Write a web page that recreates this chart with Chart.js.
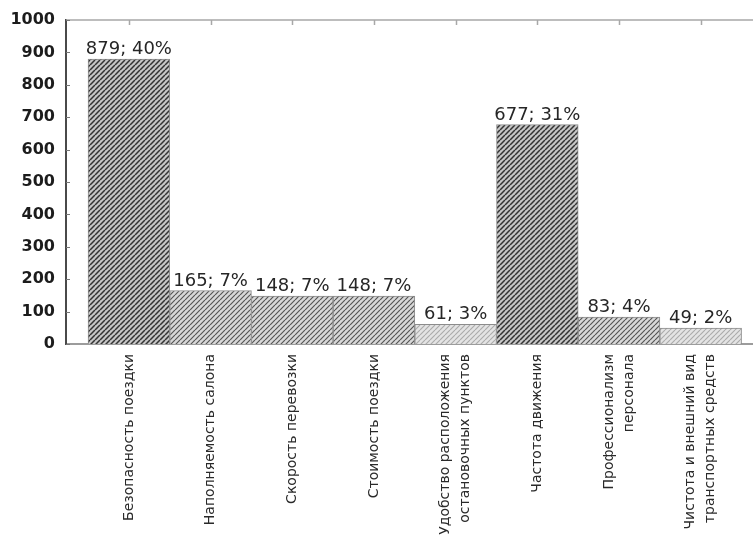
<!DOCTYPE html>
<html lang="ru">
<head>
<meta charset="utf-8">
<title>Факторы качества перевозок</title>
<script src="https://cdn.jsdelivr.net/npm/chart.js@4/dist/chart.umd.min.js"></script>
<style>
  html, body { margin: 0; padding: 0; background: #fff; }
  #wrap { width: 753px; height: 544px; }
</style>
</head>
<body>
<div id="wrap"><canvas id="factorsChart" width="753" height="544"></canvas></div>
<script>
'use strict';

// categories (split into lines for the rotated axis labels)
let categories = [
  ['Безопасность поездки'],
  ['Наполняемость салона'],
  ['Скорость перевозки'],
  ['Стоимость поездки'],
  ['Удобство расположения', 'остановочных пунктов'],
  ['Частота движения'],
  ['Профессионализм', 'персонала'],
  ['Чистота и внешний вид', 'транспортных средств']
];
let answers = [879, 165, 148, 148, 61, 677, 83, 49];
let yTicks = [0, 100, 200, 300, 400, 500, 600, 700, 800, 900, 1000];

// how heavy the hatching looks on each bar
let hatchTone = ['dark', 'mid', 'mid', 'mid', 'light', 'dark', 'mid', 'light'];

let totalAnswers = answers.reduce((a, b) => a + b, 0);

//Helper Functions
function hatch(bg, ink, lineWidth) {
  let size = 5;
  let tile = document.createElement('canvas');
  tile.width = size;
  tile.height = size;
  let g = tile.getContext('2d');
  g.fillStyle = bg;
  g.fillRect(0, 0, size, size);
  g.strokeStyle = ink;
  g.lineWidth = lineWidth;
  g.beginPath();
  for (let k = -1; k <= 1; k++) {
    g.moveTo(k * size, size);
    g.lineTo(k * size + size, 0);
  }
  g.stroke();
  return g.createPattern(tile, 'repeat');
}

let patterns = {
  dark: hatch('#c6c6c6', '#333333', 1.5),
  mid: hatch('#d8d8d8', '#555555', 1.2),
  light: hatch('#e4e4e4', '#ababab', 1.1)
};

// "879; 40%" above each bar
const valueLabels = {
  id: 'valueLabels',
  afterDatasetsDraw(chart) {
    let ctx = chart.ctx;
    let meta = chart.getDatasetMeta(0);
    ctx.save();
    ctx.font = '18px "DejaVu Sans"';
    ctx.fillStyle = '#262626';
    ctx.textAlign = 'center';
    ctx.textBaseline = 'alphabetic';
    meta.data.forEach((bar, i) => {
      let pct = Math.round(answers[i] / totalAnswers * 100);
      ctx.fillText(`${answers[i]}; ${pct}%`, bar.x, bar.y - 5);
    });
    ctx.restore();
  }
};

// vertical category names under the axis, lines centred on the bar
const categoryLabels = {
  id: 'categoryLabels',
  afterDraw(chart) {
    let ctx = chart.ctx;
    let xScale = chart.scales.x;
    let lineHeight = 20;
    ctx.save();
    ctx.font = '14px "DejaVu Sans"';
    ctx.fillStyle = '#2a2a2a';
    ctx.textAlign = 'right';
    ctx.textBaseline = 'middle';
    categories.forEach((lines, i) => {
      ctx.save();
      ctx.translate(xScale.getPixelForValue(i), chart.chartArea.bottom + 10);
      ctx.rotate(-Math.PI / 2);
      lines.forEach((line, j) => {
        ctx.fillText(line, 0, (j - (lines.length - 1) / 2) * lineHeight);
      });
      ctx.restore();
    });
    ctx.restore();
  }
};

// top frame line with small ticks, plus short inner ticks on the value axis
const frame = {
  id: 'frame',
  beforeDatasetsDraw(chart) {
    let ctx = chart.ctx;
    let area = chart.chartArea;
    let xScale = chart.scales.x;
    let yScale = chart.scales.y;
    ctx.save();
    ctx.strokeStyle = '#a8a8a8';
    ctx.lineWidth = 1.5;
    ctx.beginPath();
    ctx.moveTo(area.left, area.top);
    ctx.lineTo(area.right, area.top);
    categories.forEach((c, i) => {
      let x = Math.round(xScale.getPixelForValue(i)) + 0.5;
      ctx.moveTo(x, area.top);
      ctx.lineTo(x, area.top + 5);
    });
    ctx.stroke();
    ctx.strokeStyle = '#777';
    ctx.lineWidth = 1;
    ctx.beginPath();
    yTicks.forEach(v => {
      let y = Math.round(yScale.getPixelForValue(v)) + 0.5;
      ctx.moveTo(area.left, y);
      ctx.lineTo(area.left + 4, y);
    });
    ctx.stroke();
    ctx.restore();
  }
};

const data = {
  datasets: [{
    label: 'Количество ответов',
    data: answers.map((v, i) => ({ x: i, y: v })),
    backgroundColor: hatchTone.map(t => patterns[t]),
    borderColor: '#8c8c8c',
    borderWidth: 1,
    barPercentage: 1,
    categoryPercentage: 1
  }]
};

const config = {
  type: 'bar',
  data: data,
  options: {
    responsive: false,
    animation: false,
    layout: { padding: { top: 20, right: 0, bottom: 0, left: 0 } },
    plugins: {
      legend: { display: false },
      tooltip: { enabled: false }
    },
    scales: {
      x: {
        type: 'linear',
        offset: false,
        min: -0.77,
        max: 7.64,
        grid: { display: false },
        border: { display: true, color: '#9c9c9c', width: 2 },
        ticks: { display: false },
        afterBuildTicks(scale) { scale.ticks = categories.map((c, i) => ({ value: i })); },
        afterFit(scale) { scale.height = 200; }
      },
      y: {
        min: 0,
        max: 1000,
        grid: { display: false },
        border: { display: true, color: '#4a4a4a', width: 2 },
        ticks: {
          stepSize: 100,
          padding: 3,
          color: '#1c1c1c',
          font: { family: '"DejaVu Sans"', size: 16, weight: 'bold' },
          callback: v => String(v)
        },
        afterBuildTicks(scale) { scale.ticks = yTicks.map(v => ({ value: v })); },
        afterFit(scale) { scale.width = 66; }
      }
    }
  },
  plugins: [frame, valueLabels, categoryLabels]
};

const factorsChart = new Chart(document.getElementById('factorsChart'), config);
</script>
</body>
</html>
